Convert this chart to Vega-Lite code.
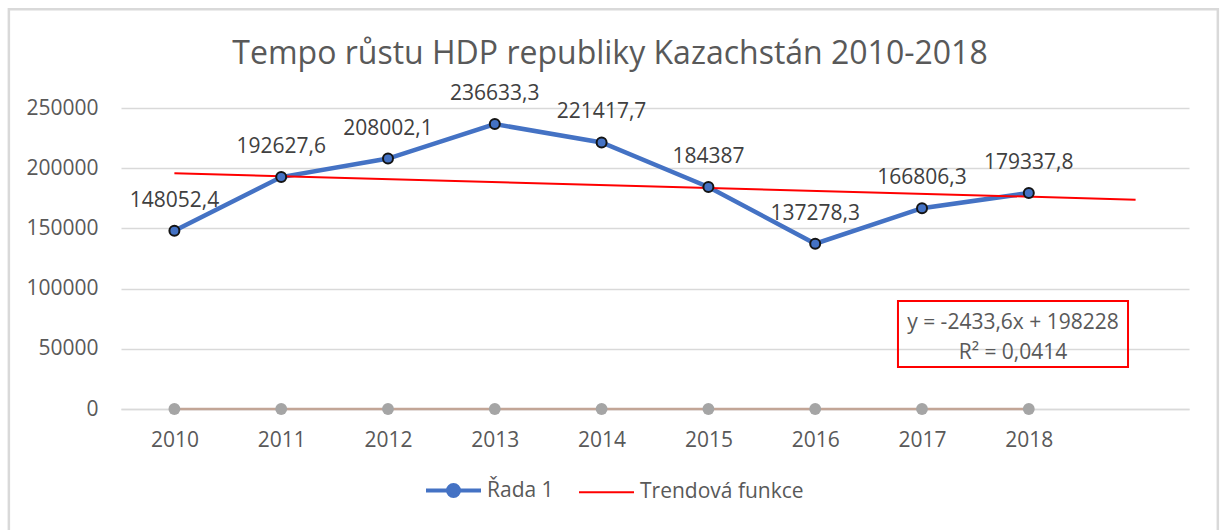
{
  "$schema": "https://vega.github.io/schema/vega-lite/v6.json",
  "width": 1068,
  "height": 301,
  "autosize": {"type": "none"},
  "padding": {"left": 121, "top": 108, "right": 35, "bottom": 121},
  "background": "white",
  "config": {
    "font": "Open Sans",
    "view": {"stroke": null},
    "text": {"color": "#595959"}
  },
  "title": {
    "text": "Tempo růstu HDP republiky Kazachstán 2010-2018",
    "fontSize": 32,
    "fontWeight": "normal",
    "color": "#595959",
    "font": "Open Sans",
    "anchor": "middle",
    "frame": "group",
    "baseline": "alphabetic",
    "dx": -45,
    "offset": 0,
    "dy": 88
  },
  "datasets": {
    "hdp": [
      {"i": 1, "hodnota": 148052.4, "popisek": "148052,4", "rada": "Řada 1"},
      {"i": 2, "hodnota": 192627.6, "popisek": "192627,6", "rada": "Řada 1"},
      {"i": 3, "hodnota": 208002.1, "popisek": "208002,1", "rada": "Řada 1"},
      {"i": 4, "hodnota": 236633.3, "popisek": "236633,3", "rada": "Řada 1"},
      {"i": 5, "hodnota": 221417.7, "popisek": "221417,7", "rada": "Řada 1"},
      {"i": 6, "hodnota": 184387, "popisek": "184387", "rada": "Řada 1"},
      {"i": 7, "hodnota": 137278.3, "popisek": "137278,3", "rada": "Řada 1"},
      {"i": 8, "hodnota": 166806.3, "popisek": "166806,3", "rada": "Řada 1"},
      {"i": 9, "hodnota": 179337.8, "popisek": "179337,8", "rada": "Řada 1"}
    ],
    "nuly": [
      {"i": 1, "hodnota": 0}, {"i": 2, "hodnota": 0}, {"i": 3, "hodnota": 0},
      {"i": 4, "hodnota": 0}, {"i": 5, "hodnota": 0}, {"i": 6, "hodnota": 0},
      {"i": 7, "hodnota": 0}, {"i": 8, "hodnota": 0}, {"i": 9, "hodnota": 0}
    ],
    "trend": [
      {"i": 1, "hodnota": 195794.4, "rada": "Trendová funkce"},
      {"i": 10, "hodnota": 173892, "rada": "Trendová funkce"}
    ],
    "ramecek": [
      {"x1": 7.775, "x2": 9.929, "y1": 34884, "y2": 89701}
    ],
    "okraj": [
      {"x1": -0.55, "x2": 10.77, "y1": 332000, "y2": -102000}
    ],
    "rovnice": [
      {"x": 8.852, "y": 71429, "t": "y = -2433,6x + 198228"},
      {"x": 8.852, "y": 46512, "t": "R² = 0,0414"}
    ]
  },
  "layer": [
    {
      "data": {"name": "nuly"},
      "mark": {"type": "line", "color": "#C2A596", "strokeWidth": 2.5},
      "encoding": {
        "x": {
          "field": "i",
          "type": "quantitative",
          "scale": {"domain": [0.5, 10.5], "nice": false, "zero": false},
          "axis": {
            "title": null,
            "values": [1, 2, 3, 4, 5, 6, 7, 8, 9],
            "labelExpr": "'' + (datum.value + 2009)",
            "grid": false,
            "ticks": false,
            "domain": true,
            "domainColor": "#D9D9D9",
            "domainWidth": 1.5,
            "labelFontSize": 21,
            "labelColor": "#595959",
            "labelPadding": 20,
            "labelFont": "Open Sans"
          }
        },
        "y": {
          "field": "hodnota",
          "type": "quantitative",
          "scale": {"domain": [0, 250000], "nice": false},
          "axis": {
            "title": null,
            "values": [0, 50000, 100000, 150000, 200000, 250000],
            "format": "d",
            "grid": true,
            "gridColor": "#D9D9D9",
            "gridWidth": 1.5,
            "ticks": false,
            "domain": false,
            "labelFontSize": 21,
            "labelColor": "#595959",
            "labelPadding": 23,
            "labelFont": "Open Sans"
          }
        }
      }
    },
    {
      "data": {"name": "okraj"},
      "mark": {"type": "rect", "fill": "white", "fillOpacity": 0, "stroke": "#D9D9D9", "strokeWidth": 2.5, "clip": false},
      "encoding": {
        "x": {"field": "x1", "type": "quantitative"},
        "x2": {"field": "x2"},
        "y": {"field": "y1", "type": "quantitative"},
        "y2": {"field": "y2"}
      }
    },
    {
      "data": {"name": "nuly"},
      "mark": {"type": "circle", "color": "#A5A5A5", "size": 140, "opacity": 1},
      "encoding": {
        "x": {"field": "i", "type": "quantitative"},
        "y": {"field": "hodnota", "type": "quantitative"}
      }
    },
    {
      "data": {"name": "hdp"},
      "mark": {"type": "line", "strokeWidth": 4.5},
      "encoding": {
        "x": {"field": "i", "type": "quantitative"},
        "y": {"field": "hodnota", "type": "quantitative"},
        "color": {
          "field": "rada",
          "type": "nominal",
          "scale": {"domain": ["Řada 1", "Trendová funkce"], "range": ["#4472C4", "#FF0000"]},
          "legend": {
            "orient": "none",
            "legendX": 322,
            "legendY": 372,
            "direction": "horizontal",
            "title": null,
            "labelFontSize": 21,
            "labelColor": "#595959",
            "labelFont": "Open Sans",
            "labelLimit": 400,
            "symbolSize": 3025,
            "symbolStrokeWidth": 4,
            "labelOffset": 23,
            "columnPadding": 21,
            "encode": {
              "symbols": {
                "update": {
                  "shape": {"signal": "datum.value === 'Řada 1' ? 'M-1,0H-0.2M0.2,0H1M-0.2,0A0.2,0.2 0 1,1 0.2,0A0.2,0.2 0 1,1 -0.2,0Z' : 'stroke'"},
                  "fill": {"signal": "datum.value === 'Řada 1' ? '#4472C4' : 'transparent'"},
                  "strokeWidth": {"signal": "datum.value === 'Řada 1' ? 4 : 2"}
                }
              }
            }
          }
        }
      }
    },
    {
      "data": {"name": "trend"},
      "mark": {"type": "line", "strokeWidth": 2},
      "encoding": {
        "x": {"field": "i", "type": "quantitative"},
        "y": {"field": "hodnota", "type": "quantitative"},
        "color": {"field": "rada", "type": "nominal"}
      }
    },
    {
      "data": {"name": "hdp"},
      "mark": {"type": "point", "shape": "circle", "filled": true, "fill": "#4472C4", "stroke": "#141414", "strokeWidth": 2, "size": 100, "opacity": 1},
      "encoding": {
        "x": {"field": "i", "type": "quantitative"},
        "y": {"field": "hodnota", "type": "quantitative"}
      }
    },
    {
      "data": {"name": "hdp"},
      "mark": {"type": "text", "dy": -30, "fontSize": 21, "color": "#404040", "align": "center", "baseline": "middle", "font": "Open Sans"},
      "encoding": {
        "x": {"field": "i", "type": "quantitative"},
        "y": {"field": "hodnota", "type": "quantitative"},
        "text": {"field": "popisek", "type": "nominal"}
      }
    },
    {
      "data": {"name": "ramecek"},
      "mark": {"type": "rect", "fill": "white", "fillOpacity": 0, "stroke": "#FF0000", "strokeWidth": 2},
      "encoding": {
        "x": {"field": "x1", "type": "quantitative"},
        "x2": {"field": "x2"},
        "y": {"field": "y1", "type": "quantitative"},
        "y2": {"field": "y2"}
      }
    },
    {
      "data": {"name": "rovnice"},
      "mark": {"type": "text", "fontSize": 21, "color": "#595959", "align": "center", "baseline": "middle", "font": "Open Sans"},
      "encoding": {
        "x": {"field": "x", "type": "quantitative"},
        "y": {"field": "y", "type": "quantitative"},
        "text": {"field": "t", "type": "nominal"}
      }
    }
  ]
}
